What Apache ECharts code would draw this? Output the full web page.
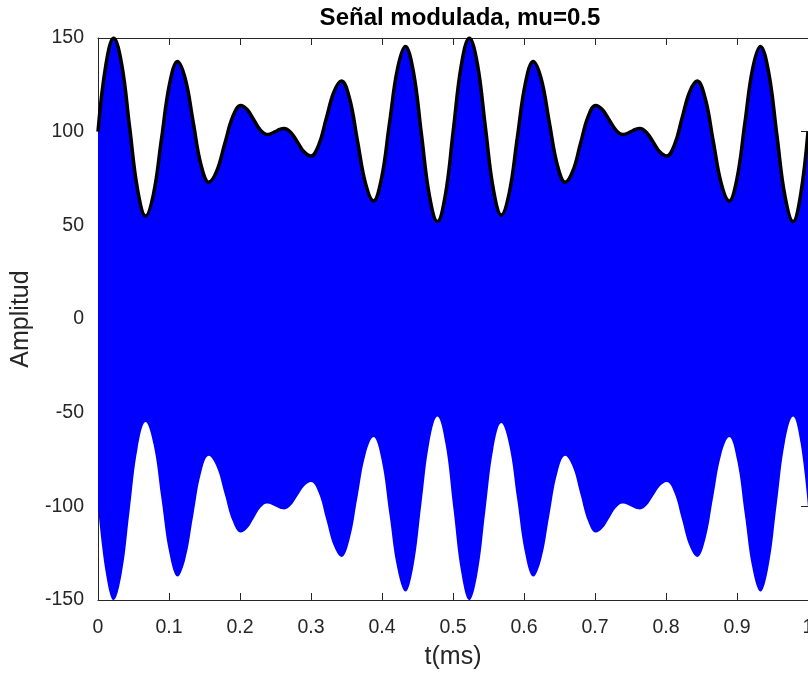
<!DOCTYPE html>
<html>
<head>
<meta charset="utf-8">
<script src="https://cdn.jsdelivr.net/npm/echarts@6/dist/echarts.min.js"></script>
<style>
html,body{margin:0;padding:0;background:#fff;}
#chart{width:808px;height:674px;}
</style>
</head>
<body>
<div id="chart"></div>
<script>
// time samples (ms) and upper envelope amplitude
const timeMs = [
  0, 0.011, 0.022, 0.0333, 0.0445, 0.0558, 0.067, 0.0783, 0.0895, 0.1008, 0.112, 0.123, 0.134, 0.145, 0.156,
  0.1673, 0.1785, 0.1898, 0.201, 0.2103, 0.2195, 0.2288, 0.238, 0.244, 0.25, 0.256, 0.262, 0.2715, 0.281, 0.2905, 0.300,
  0.3108, 0.3215, 0.3323, 0.343, 0.3543, 0.3655, 0.3768, 0.388, 0.3993, 0.4105, 0.4218, 0.433, 0.4443, 0.4555, 0.4668, 0.478,
  0.4893, 0.5005, 0.5118, 0.523, 0.5343, 0.5455, 0.5568, 0.568, 0.5793, 0.5905, 0.6018, 0.613, 0.6243, 0.6355, 0.6468, 0.658,
  0.6688, 0.6795, 0.6903, 0.701, 0.7105, 0.72, 0.7295, 0.739, 0.745, 0.751, 0.757, 0.763, 0.7725, 0.782, 0.7915, 0.801,
  0.8118, 0.8225, 0.8333, 0.844, 0.8553, 0.8665, 0.8778, 0.889, 0.9, 0.911, 0.922, 0.933, 0.9445, 0.956, 0.9675, 0.979, 0.9895, 1.0
];
const envelope = [
  100, 135.4, 150, 136.1, 102.5, 68.9, 55, 67, 96.3, 125.5, 137.5, 128.1, 105.3, 82.4, 73,
  79, 93.5, 108, 114, 111.7, 106.3, 100.8, 98.5, 99, 100.1, 101.2, 101.7, 99.6, 94.4, 89.1, 87,
  92.8, 107, 121.2, 127, 117.7, 95, 72.3, 63, 75, 104.3, 133.5, 145.5, 131.8, 98.8, 65.7, 52,
  66.3, 101, 135.7, 150, 136.2, 102.8, 69.3, 55.5, 67.5, 96.5, 125.5, 137.5, 128.1, 105.3, 82.4, 73,
  79, 93.5, 108, 114, 111.7, 106.3, 100.8, 98.5, 99, 100.1, 101.2, 101.7, 99.6, 94.4, 89.1, 87,
  92.8, 107, 121.2, 127, 117.7, 95, 72.3, 63, 75, 104.3, 133.5, 145.5, 131.8, 98.8, 65.7, 52, 66.1, 100
];
const xTicks = [0, 1, 0.1];      // min, max, interval
const yTicks = [-150, 150, 50];  // min, max, interval
const titleText = 'Señal modulada, mu=0.5';
const xName = 't(ms)';
const yName = 'Amplitud';

const lowerEnv = envelope.map(v => -v);
const pairs = arr => timeMs.map((t, i) => [t, arr[i]]);

const txt = '#262626';
const font = 'Arial, "Liberation Sans", Helvetica, sans-serif';
const chart = echarts.init(document.getElementById('chart'), null, {renderer: 'canvas'});
const axisCommon = {
  axisLine: {show: true, onZero: false, lineStyle: {color: txt, width: 1}},
  axisTick: {show: true, inside: true, length: 7, lineStyle: {color: txt, width: 1}},
  splitLine: {show: false}
};
chart.setOption({
  animation: false,
  title: {
    text: titleText, left: 455, top: 1, textAlign: 'center',
    textStyle: {fontFamily: font, fontSize: 24, fontWeight: 'bold', color: '#000'}
  },
  grid: {left: 98, top: 38, width: 710, height: 562, containLabel: false, outerBoundsMode: 'none'},
  xAxis: [
    Object.assign({
      type: 'value', min: xTicks[0], max: xTicks[1], interval: xTicks[2], position: 'bottom',
      name: xName, nameLocation: 'middle', nameGap: 45,
      nameTextStyle: {fontFamily: font, fontSize: 25, color: txt},
      axisLabel: {fontFamily: font, fontSize: 19.5, color: txt, margin: 18}
    }, axisCommon),
    Object.assign({
      type: 'value', min: xTicks[0], max: xTicks[1], interval: xTicks[2], position: 'top',
      axisLabel: {show: false}
    }, axisCommon)
  ],
  yAxis: [
    Object.assign({
      type: 'value', min: yTicks[0], max: yTicks[1], interval: yTicks[2], position: 'left',
      name: yName, nameLocation: 'middle', nameGap: 62, nameRotate: 90,
      nameTextStyle: {fontFamily: font, fontSize: 25, color: txt},
      axisLabel: {fontFamily: font, fontSize: 19.5, color: txt, margin: 14}
    }, axisCommon),
    Object.assign({
      type: 'value', min: yTicks[0], max: yTicks[1], interval: yTicks[2], position: 'right',
      axisLabel: {show: false}
    }, axisCommon)
  ],
  series: [
    {
      type: 'line', data: pairs(lowerEnv), smooth: 0.4, symbol: 'none',
      lineStyle: {width: 0, opacity: 0}, areaStyle: {color: '#0000FF', opacity: 1, origin: 'auto'}, silent: true
    },
    {
      type: 'line', data: pairs(envelope), smooth: 0.4, symbol: 'none',
      lineStyle: {width: 0, opacity: 0}, areaStyle: {color: '#0000FF', opacity: 1, origin: 'auto'}, silent: true
    },
    {
      type: 'line', data: pairs(envelope), smooth: 0.4, symbol: 'none', z: 5,
      lineStyle: {color: '#000', width: 3.5}, silent: true
    }
  ]
});
</script>
</body>
</html>
